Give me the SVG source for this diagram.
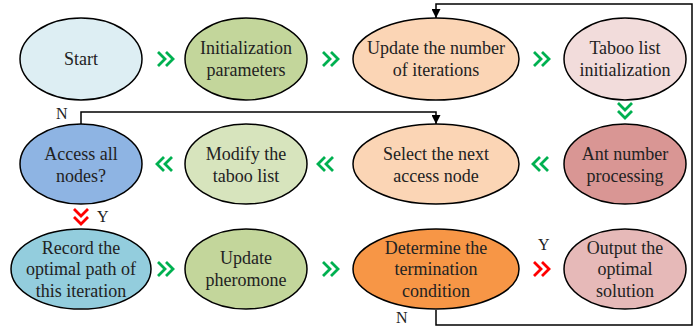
<svg xmlns="http://www.w3.org/2000/svg" xmlns:xlink="http://www.w3.org/1999/xlink" width="694" height="329" viewBox="0 0 694 329">
<style>
.n{stroke:#000;stroke-width:1.5}
.t{font-family:"Liberation Serif","Times New Roman",serif;font-size:18px;fill:#222;text-anchor:middle}
.lbl{font-family:"Liberation Serif","Times New Roman",serif;font-size:16px;fill:#222}
.ln{fill:none;stroke:#000;stroke-width:1.5}
.g{fill:none;stroke:#00B050;stroke-width:2.8}
.r{fill:none;stroke:#FF0000;stroke-width:2.8}
</style>
<defs>
<path id="chev" d="M-7,-7 L0,0 L-7,7 M1,-7 L8,0 L1,7"/>
<marker id="ah" markerWidth="8" markerHeight="8" refX="4" refY="7" orient="auto" markerUnits="userSpaceOnUse">
<path d="M0,0 L8,0 L4,7 z" fill="#000" transform="rotate(-90 4 4)"/>
</marker>
<marker id="ad" viewBox="0 0 10 10" refX="10" refY="5" markerWidth="9" markerHeight="9" orient="auto" markerUnits="userSpaceOnUse">
<path d="M0,0 L10,5 L0,10 z" fill="#000"/>
</marker>
</defs>
<rect width="694" height="329" fill="#fff"/>
<g id="connectors">
<polyline class="ln" points="436,310 436,325 692,325 692,4 436,4 436,18" marker-end="url(#ad)"/>
<polyline class="ln" points="81,125 81,112 436,112 436,124" marker-end="url(#ad)"/>
<use href="#chev" class="g" x="165" y="59"/>
<use href="#chev" class="g" x="330" y="59"/>
<use href="#chev" class="g" x="541" y="59"/>
<use href="#chev" class="g" transform="translate(625,110) rotate(90)"/>
<use href="#chev" class="g" transform="translate(541,164) rotate(180)"/>
<use href="#chev" class="g" transform="translate(326,164) rotate(180)"/>
<use href="#chev" class="g" transform="translate(165,164) rotate(180)"/>
<use href="#chev" class="r" transform="translate(81,216) rotate(90)"/>
<use href="#chev" class="g" x="165" y="269"/>
<use href="#chev" class="g" x="330" y="269"/>
<use href="#chev" class="r" x="541" y="269"/>
<text class="lbl" x="56" y="119">N</text>
<text class="lbl" x="97" y="222">Y</text>
<text class="lbl" x="538" y="250">Y</text>
<text class="lbl" x="396" y="323">N</text>
</g>
<g id="start"><ellipse class="n" cx="81" cy="59" rx="61" ry="41" fill="#DDEEF3"/><text class="t" x="81" y="65">Start</text></g>
<g id="init"><ellipse class="n" cx="246" cy="59" rx="61" ry="41" fill="#C3D69B"/><text class="t" x="246" y="54">Initialization</text><text class="t" x="246" y="76">parameters</text></g>
<g id="update-iter"><ellipse class="n" cx="436" cy="59" rx="83" ry="41" fill="#FBD5B5"/><text class="t" x="436" y="54">Update the number</text><text class="t" x="436" y="76">of iterations</text></g>
<g id="taboo-init"><ellipse class="n" cx="625" cy="59" rx="61" ry="41" fill="#F2DCDB"/><text class="t" x="625" y="54">Taboo list</text><text class="t" x="625" y="76">initialization</text></g>
<g id="access"><ellipse class="n" cx="81" cy="164" rx="61" ry="40" fill="#8EB4E3"/><text class="t" x="81" y="160">Access all</text><text class="t" x="81" y="182">nodes?</text></g>
<g id="modify"><ellipse class="n" cx="246" cy="164" rx="61" ry="40" fill="#D7E4BD"/><text class="t" x="246" y="160">Modify the</text><text class="t" x="246" y="182">taboo list</text></g>
<g id="select"><ellipse class="n" cx="436" cy="164" rx="83" ry="40" fill="#FBD5B5"/><text class="t" x="436" y="160">Select the next</text><text class="t" x="436" y="182">access node</text></g>
<g id="ant"><ellipse class="n" cx="625" cy="164" rx="61" ry="40" fill="#D99694"/><text class="t" x="625" y="160">Ant number</text><text class="t" x="625" y="182">processing</text></g>
<g id="record"><ellipse class="n" cx="81" cy="269" rx="70" ry="40" fill="#93CDDD"/><text class="t" x="81" y="254">Record the</text><text class="t" x="81" y="275">optimal path of</text><text class="t" x="81" y="297">this iteration</text></g>
<g id="pheromone"><ellipse class="n" cx="246" cy="269" rx="61" ry="40" fill="#C3D69B"/><text class="t" x="246" y="264">Update</text><text class="t" x="246" y="286">pheromone</text></g>
<g id="determine"><ellipse class="n" cx="436" cy="269" rx="83" ry="40" fill="#F79646"/><text class="t" x="436" y="254">Determine the</text><text class="t" x="436" y="275">termination</text><text class="t" x="436" y="297">condition</text></g>
<g id="output"><ellipse class="n" cx="625" cy="269" rx="61" ry="40" fill="#E6B9B8"/><text class="t" x="625" y="254">Output the</text><text class="t" x="625" y="275">optimal</text><text class="t" x="625" y="297">solution</text></g>
</svg>
